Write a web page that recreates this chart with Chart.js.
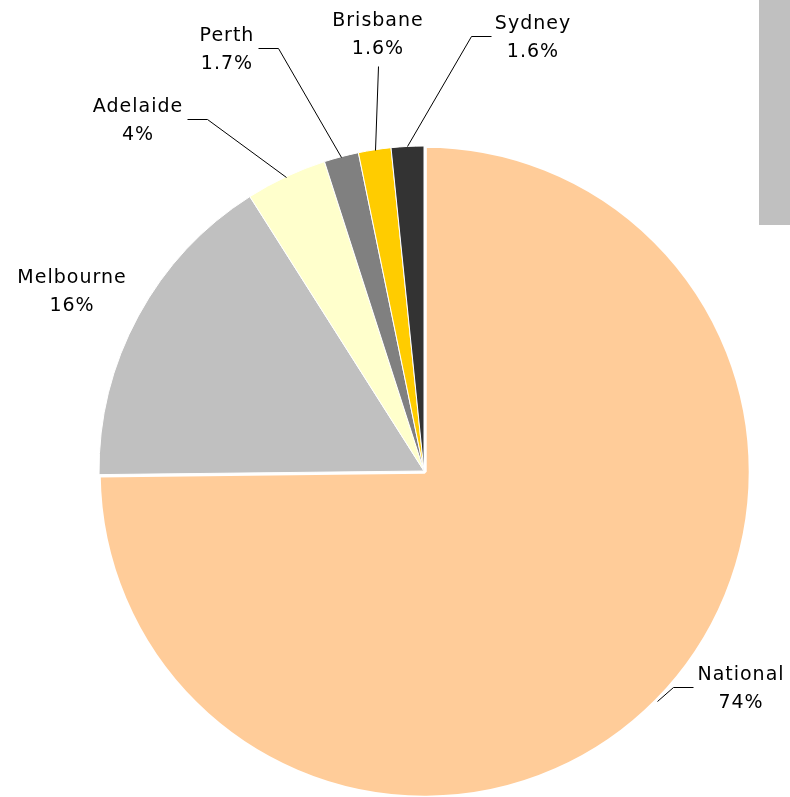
<!DOCTYPE html>
<html>
<head>
<meta charset="utf-8">
<script src="https://cdn.jsdelivr.net/npm/chart.js@4/dist/chart.umd.min.js"></script>
<style>
  html, body { margin: 0; padding: 0; background: #fff; }
  #wrap { position: relative; width: 790px; height: 797px; }
</style>
</head>
<body>
<div id="wrap"><canvas id="regionChart"></canvas></div>
<script>
const regions = ["National", "Melbourne", "Adelaide", "Perth", "Brisbane", "Sydney"];
const shares = [74, 16, 4, 1.7, 1.6, 1.6];
const sliceColors = ["#FFCC99", "#C0C0C0", "#FFFFCC", "#808080", "#FFCC00", "#333333"];

// label placement: centre x, first baseline, and which side the leader joins
const labelSpots = [
  { x: 741, y: 680, leader: "left" },
  { x: 72, y: 283, leader: null },
  { x: 138, y: 112, leader: "right" },
  { x: 227, y: 41, leader: "right" },
  { x: 378, y: 26, leader: "below" },
  { x: 533, y: 29, leader: "left" }
];

// grey strip at the top right (legend box edge)
const legendStrip = {
  id: "legendStrip",
  beforeDraw(chart) {
    const ctx = chart.ctx;
    ctx.save();
    ctx.fillStyle = "#C0C0C0";
    ctx.fillRect(759, 0, 31, 225);
    ctx.restore();
  }
};

// name + percentage labels with elbow leader lines
const sliceLabels = {
  id: "sliceLabels",
  afterDatasetsDraw(chart) {
    const ctx = chart.ctx;
    const arcs = chart.getDatasetMeta(0).data;
    const lineGap = 28;
    ctx.save();
    ctx.font = "19px 'DejaVu Sans'";
    ctx.letterSpacing = "1px";
    ctx.fillStyle = "#000";
    ctx.textAlign = "center";
    ctx.textBaseline = "alphabetic";
    ctx.strokeStyle = "#000";
    ctx.lineWidth = 1;
    arcs.forEach((arc, i) => {
      const spot = labelSpots[i];
      const lines = [regions[i], shares[i] + "%"];
      lines.forEach((t, k) => ctx.fillText(t, spot.x, spot.y + k * lineGap));
      if (!spot.leader) return;

      // point on the slice edge at its middle angle (arc offset moves it out)
      const o = (arc.options.offset || 0) / 4;
      const fix = 1 - Math.sin(Math.min(Math.PI, arc.circumference));
      const mid = (arc.startAngle + arc.endAngle) / 2;
      const reach = o + arc.outerRadius + o * fix;
      const sx = arc.x + Math.cos(mid) * reach;
      const sy = arc.y + Math.sin(mid) * reach;

      const w = Math.max(...lines.map(t => ctx.measureText(t).width));
      let pts;
      if (spot.leader === "below") {
        pts = [[sx, sy], [spot.x, spot.y + lineGap + 12]];
      } else {
        const ey = spot.y + 7;
        const dir = spot.leader === "left" ? -1 : 1;
        const ex = spot.x + dir * (w / 2 + 4);
        pts = [[sx, sy], [ex + dir * 20, ey], [ex, ey]];
      }
      ctx.beginPath();
      ctx.moveTo(Math.round(pts[0][0]) + 0.5, Math.round(pts[0][1]) + 0.5);
      pts.slice(1).forEach(p => ctx.lineTo(Math.round(p[0]) + 0.5, Math.round(p[1]) + 0.5));
      ctx.stroke();
    });
    ctx.restore();
  }
};

new Chart(document.getElementById("regionChart"), {
  type: "pie",
  data: {
    labels: regions,
    datasets: [{
      data: shares,
      backgroundColor: sliceColors,
      borderColor: "#fff",
      borderWidth: [4, 1, 1, 1, 1, 1],
      offset: [4, 0, 0, 0, 0, 0]
    }]
  },
  options: {
    responsive: true,
    maintainAspectRatio: false,
    animation: false,
    radius: 325,
    layout: { padding: { left: 58, right: 0, top: 145, bottom: 0 } },
    plugins: {
      legend: { display: false },
      tooltip: { enabled: false }
    }
  },
  plugins: [legendStrip, sliceLabels]
});
</script>
</body>
</html>
